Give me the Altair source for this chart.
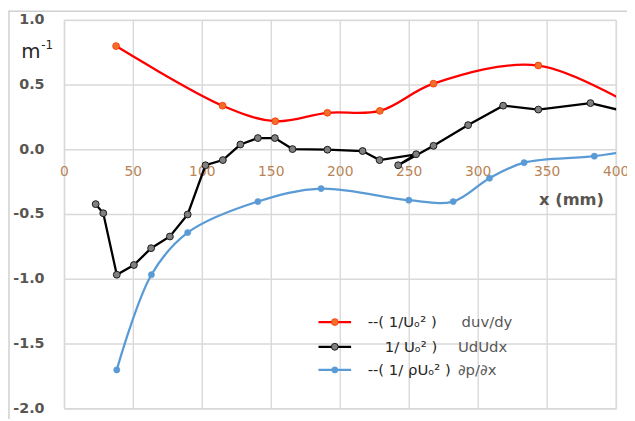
import altair as alt
import pandas as pd

# ---------------- data ----------------
x_ticks = [0, 50, 100, 150, 200, 250, 300, 350, 400]
y_ticks = [-2.0, -1.5, -1.0, -0.5, 0.0, 0.5, 1.0]

red_x = [37.5, 114.7, 152.9, 190.7, 228.7, 267.6, 343.6, 420.0]
red_y = [0.80, 0.34, 0.22, 0.285, 0.30, 0.51, 0.65, 0.29]

black_x = [22.7, 28.2, 38.0, 50.4, 62.9, 76.5, 89.4, 102.3, 114.9, 127.6, 140.3,
           152.6, 165.4, 190.7, 216.2, 228.5, 255.0, 242.0, 267.6, 292.7, 318.1,
           343.6, 381.4, 420.0]
black_y = [-0.42, -0.49, -0.965, -0.89, -0.76, -0.67, -0.50, -0.12, -0.08, 0.04, 0.09,
           0.09, 0.005, 0.0, -0.01, -0.08, -0.035, -0.12, 0.03, 0.19, 0.34,
           0.31, 0.36, 0.26]

blue_x = [38.0, 63.1, 89.4, 140.3, 186.1, 249.7, 281.9, 308.2, 333.3, 384.2, 420.0]
blue_y = [-1.70, -0.965, -0.64, -0.40, -0.30, -0.39, -0.40, -0.22, -0.10, -0.05, 0.01]

legend_left = ["--( 1/U\u2092\u00b2 )", "1/ U\u2092\u00b2 )", "--( 1/ \u03c1U\u2092\u00b2 )"]
legend_right = ["duv/dy", "UdUdx", "\u2202p/\u2202x"]

# ---------------- styling ----------------
W, H = 558, 393
FONT = "DejaVu Sans"
GRID = "#d9d9d9"
XMAX = 400

xs = alt.Scale(domain=[0, 400], nice=False, zero=False)
ys = alt.Scale(domain=[-2, 1], nice=False, zero=False)

series = [
    dict(x=red_x, y=red_y, line="#ff0000", fill="#f0702a", stroke="#ff3000",
         size=48, interp="catmull-rom", sw=0.8),
    dict(x=black_x, y=black_y, line="#000000", fill="#808080", stroke="#1a1a1a",
         size=48, interp="linear", sw=1.0),
    dict(x=blue_x, y=blue_y, line="#5b9bd5", fill="#5b9bd5", stroke="#5b9bd5",
         size=40, interp="catmull-rom", sw=0.5),
]

X = lambda f: alt.X(f, scale=xs, axis=None)
Y = lambda f: alt.Y(f, scale=ys, axis=None)

xdf = pd.DataFrame({"v": x_ticks, "lab": [str(v) for v in x_ticks]})
ydf = pd.DataFrame({"v": y_ticks, "lab": [f"{v:.1f}" for v in y_ticks]})

vgrid = alt.Chart(xdf).mark_rule(color=GRID, strokeWidth=1.4).encode(x=X("v:Q"))
hgrid = alt.Chart(ydf).mark_rule(color=GRID, strokeWidth=1.4).encode(y=Y("v:Q"))

xlabels = alt.Chart(xdf).mark_text(
    align="center", baseline="middle", font=FONT, fontSize=14, color="#b98455"
).encode(x=X("v:Q"), y=alt.value(H / 3 + 23), text="lab:N")

ylabels = alt.Chart(ydf).mark_text(
    align="right", baseline="middle", font=FONT, fontSize=14.5, fontWeight="bold",
    color="#595550"
).encode(y=Y("v:Q"), x=alt.value(-20), text="lab:N")

layers = [vgrid, hgrid, xlabels, ylabels]
for s in series:
    df = pd.DataFrame({"x": s["x"], "y": s["y"], "i": list(range(len(s["x"])))})
    base = alt.Chart(df)
    line = base.mark_line(
        interpolate=s["interp"], clip=True, color=s["line"], strokeWidth=2.3
    ).encode(x=X("x:Q"), y=Y("y:Q"), order="i:Q")
    pts = base.transform_filter(alt.datum.x <= XMAX).mark_point(
        shape="circle", filled=True, fill=s["fill"], stroke=s["stroke"],
        strokeWidth=s["sw"], size=s["size"], opacity=1
    ).encode(x=X("x:Q"), y=Y("y:Q"))
    layers += [line, pts]

# custom legend
leg_rows = [305.3, 330.3, 353.7]
left_x = [306.7, 324.0, 306.7]
right_x = [401.7, 398.0, 398.0]
one = pd.DataFrame({"a": [0]})
for k, s in enumerate(series):
    yy = leg_rows[k]
    layers.append(alt.Chart(one).mark_rule(color=s["line"], strokeWidth=2.3).encode(
        x=alt.value(257), x2=alt.value(290), y=alt.value(yy)))
    layers.append(alt.Chart(one).mark_point(
        shape="circle", filled=True, fill=s["fill"], stroke=s["stroke"],
        strokeWidth=s["sw"], size=s["size"], opacity=1).encode(
        x=alt.value(273.5), y=alt.value(yy)))
    layers.append(alt.Chart(one).mark_text(
        text=legend_left[k], align="left", baseline="middle", font=FONT,
        fontSize=15, color="#262626").encode(x=alt.value(left_x[k]), y=alt.value(yy)))
    layers.append(alt.Chart(one).mark_text(
        text=legend_right[k], align="left", baseline="middle", font=FONT,
        fontSize=15, color="#595959").encode(x=alt.value(right_x[k]), y=alt.value(yy)))

# axis titles
layers.append(alt.Chart(one).mark_text(
    text="x (mm)", align="left", baseline="middle", font=FONT, fontSize=16.5,
    fontWeight="bold", color="#595550").encode(x=alt.value(480), y=alt.value(182)))
layers.append(alt.Chart(one).mark_text(
    text="m", align="left", baseline="alphabetic", font=FONT, fontSize=20,
    color="#262626").encode(x=alt.value(-43.5), y=alt.value(38)))
layers.append(alt.Chart(one).mark_text(
    text="-1", align="left", baseline="alphabetic", font=FONT, fontSize=12,
    color="#262626").encode(x=alt.value(-23.3), y=alt.value(28.7)))
# chart frame (top and left edges)
layers.append(alt.Chart(one).mark_rule(color="#d0d0d0", strokeWidth=1.5).encode(
    x=alt.value(-56), x2=alt.value(620), y=alt.value(-9)))
layers.append(alt.Chart(one).mark_rule(color="#d0d0d0", strokeWidth=1.5).encode(
    x=alt.value(-56), y=alt.value(-10), y2=alt.value(410)))

chart = alt.layer(*layers).properties(
    width=W, height=H,
    autosize=alt.AutoSizeParams(type="none"),
    padding={"left": 57, "top": 10, "right": 11, "bottom": 8},
).configure_view(stroke=None).configure(background="white")

chart.save("out.html", embed_options={"renderer": "svg", "actions": False})
